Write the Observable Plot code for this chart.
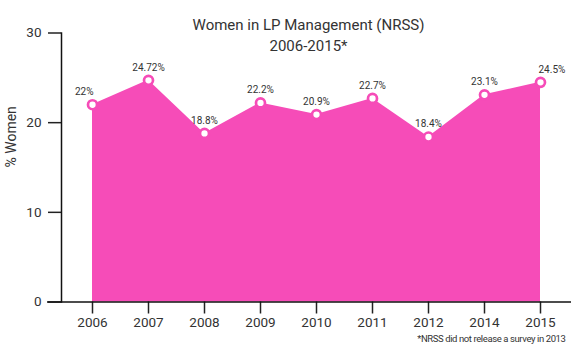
<!DOCTYPE html>
<html>
<head>
<meta charset="utf-8">
<script src="https://cdn.jsdelivr.net/npm/d3@7"></script>
<script src="https://cdn.jsdelivr.net/npm/@observablehq/plot@0.6"></script>
<style>
  html, body { margin: 0; padding: 0; background: #fff; }
  #chart svg { display: block; }
</style>
</head>
<body>
<div id="chart"></div>
<script>
const years = ["2006", "2007", "2008", "2009", "2010", "2011", "2012", "2014", "2015"];
const values = [22, 24.72, 18.8, 22.2, 20.9, 22.7, 18.4, 23.1, 24.5];
const valueLabels = ["22%", "24.72%", "18.8%", "22.2%", "20.9%", "22.7%", "18.4%", "23.1%", "24.5%"];
const yTicks = [0, 10, 20, 30];
const titleLines = ["Women in LP Management (NRSS)", "2006-2015*"];
const yLabel = "% Women";
const footnote = "*NRSS did not release a survey in 2013";

const data = years.map((year, i) => ({year, value: values[i], label: valueLabels[i], i}));
const n = data.length;

const pink = "#f64cb8";
const ink = "#333333";

const plot = Plot.plot({
  width: 571,
  height: 350,
  marginLeft: 61,
  marginRight: 1,
  marginTop: 32.5,
  marginBottom: 48.5,
  style: {fontFamily: "Roboto, sans-serif", color: ink, background: "#fff"},
  x: {type: "point", domain: years, padding: 0.5},
  y: {domain: [0, 30]},
  marks: [
    Plot.areaY(data, {x: "year", y: "value", fill: pink, curve: "linear"}),
    Plot.axisY({ticks: yTicks, tickSize: 13, tickPadding: 7, fontSize: 13.5, label: null, stroke: "#222", strokeWidth: 1.5}),
    Plot.axisX({tickSize: 12, tickPadding: 3, fontSize: 13.5, label: null, stroke: "#222", strokeWidth: 1.5}),
    Plot.frame({anchor: "left", stroke: "#111", strokeWidth: 1.5}),
    Plot.ruleY([0], {stroke: "#111", strokeWidth: 1.5, insetLeft: -14, insetRight: -1}),
    Plot.dot(data, {x: "year", y: "value", r: 4.5, fill: "white", stroke: pink, strokeWidth: 2.7}),
    Plot.text(data, {filter: d => d.i === 0, x: "year", y: "value", text: "label", dy: -13, dx: 1, textAnchor: "end", fontSize: 10, fill: ink}),
    Plot.text(data, {filter: d => d.i > 0 && d.i < n - 1, x: "year", y: "value", text: "label", dy: -13, fontSize: 10, fill: ink}),
    Plot.text(data, {filter: d => d.i === n - 1, x: "year", y: "value", text: "label", dy: -13, dx: -2, textAnchor: "start", fontSize: 10, fill: ink}),
    Plot.text([titleLines[0]], {frameAnchor: "top", dx: -7.5, dy: -13.5, fontSize: 15, fill: ink}),
    Plot.text([titleLines[1]], {frameAnchor: "top", dx: -7.5, dy: 7.5, fontSize: 15, fill: ink}),
    Plot.text([yLabel], {frameAnchor: "left", dx: -50, rotate: -90, fontSize: 14, fill: ink}),
    Plot.text([footnote], {frameAnchor: "bottom-right", textAnchor: "end", dx: -5, dy: 40, fontSize: 9.5, fill: ink})
  ]
});

d3.select(plot).selectAll("text").each(function () {
  if (this.textContent === footnote) {
    this.setAttribute("letter-spacing", "-0.4");
  }
});

document.getElementById("chart").appendChild(plot);
</script>
</body>
</html>
